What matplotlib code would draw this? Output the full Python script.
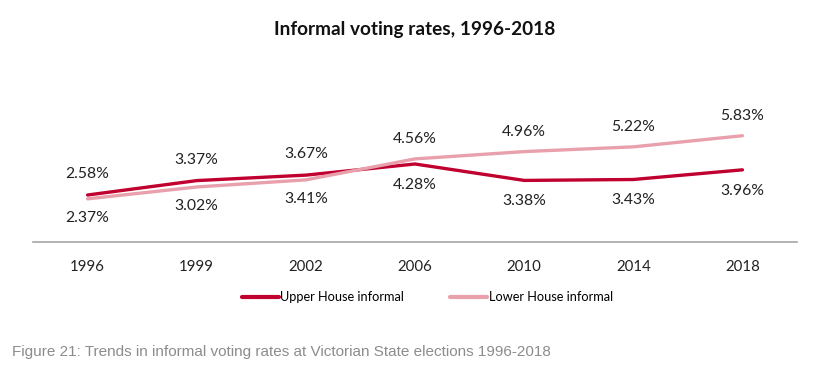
import numpy as np
import matplotlib.pyplot as plt

years = ['1996', '1999', '2002', '2006', '2010', '2014', '2018']
upper = [2.58, 3.37, 3.67, 4.28, 3.38, 3.43, 3.96]
lower = [2.37, 3.02, 3.41, 4.56, 4.96, 5.22, 5.83]
# label above (+1) or below (-1) the point
upper_side = [1, 1, 1, -1, -1, -1, -1]

upper_col = '#C0002F'
lower_col = '#E8A1AC'

plt.rcParams['font.family'] = ['Lato', 'DejaVu Sans']

fig = plt.figure(figsize=(8.22, 3.69), dpi=100)
ax = fig.add_axes([33/822, 0.344, 764/822, 0.346])

x = np.arange(len(years))
ax.plot(x, upper, color=upper_col, lw=2.4, label='Upper House informal', solid_capstyle='round')
ax.plot(x, lower, color=lower_col, lw=2.4, label='Lower House informal', solid_capstyle='round')

for i in range(len(x)):
    s = upper_side[i]
    ax.annotate(f'{upper[i]:.2f}%', (x[i], upper[i]), xytext=(0, 15 * s), textcoords='offset points',
                ha='center', va='center', fontsize=11.3, color='#222222')
    ax.annotate(f'{lower[i]:.2f}%', (x[i], lower[i]), xytext=(0, -14 * s), textcoords='offset points',
                ha='center', va='center', fontsize=11.3, color='#222222')

ax.set_xlim(-0.5, 6.5)
ax.set_ylim(0, 7)
ax.set_xticks(x)
ax.set_xticklabels(years, fontsize=10.8, color='#222222')
ax.set_yticks([])
ax.tick_params(axis='x', length=0, pad=13)
for sp in ['top', 'left', 'right']:
    ax.spines[sp].set_visible(False)
ax.spines['bottom'].set_color('#A6A6A6')
ax.spines['bottom'].set_linewidth(1.2)

fig.text(0.505, 1 - 30/369, 'Informal voting rates, 1996-2018', ha='center', va='center',
         fontsize=13.7, fontweight='bold', color='#111111')

leg = fig.legend(loc='center', bbox_to_anchor=(0.52, 1 - 297/369), ncol=2, frameon=False,
                 fontsize=9.2, handlelength=2.9, handletextpad=0.1, columnspacing=3.6)
for ln in leg.get_lines():
    ln.set_linewidth(3)

fig.text(12/822, 1 - 352/369, 'Figure 21: Trends in informal voting rates at Victorian State elections 1996-2018',
         ha='left', va='center', fontsize=11, color='#8C8C8C', family=['Liberation Sans', 'DejaVu Sans'])

fig.savefig('out.png', dpi=100)
